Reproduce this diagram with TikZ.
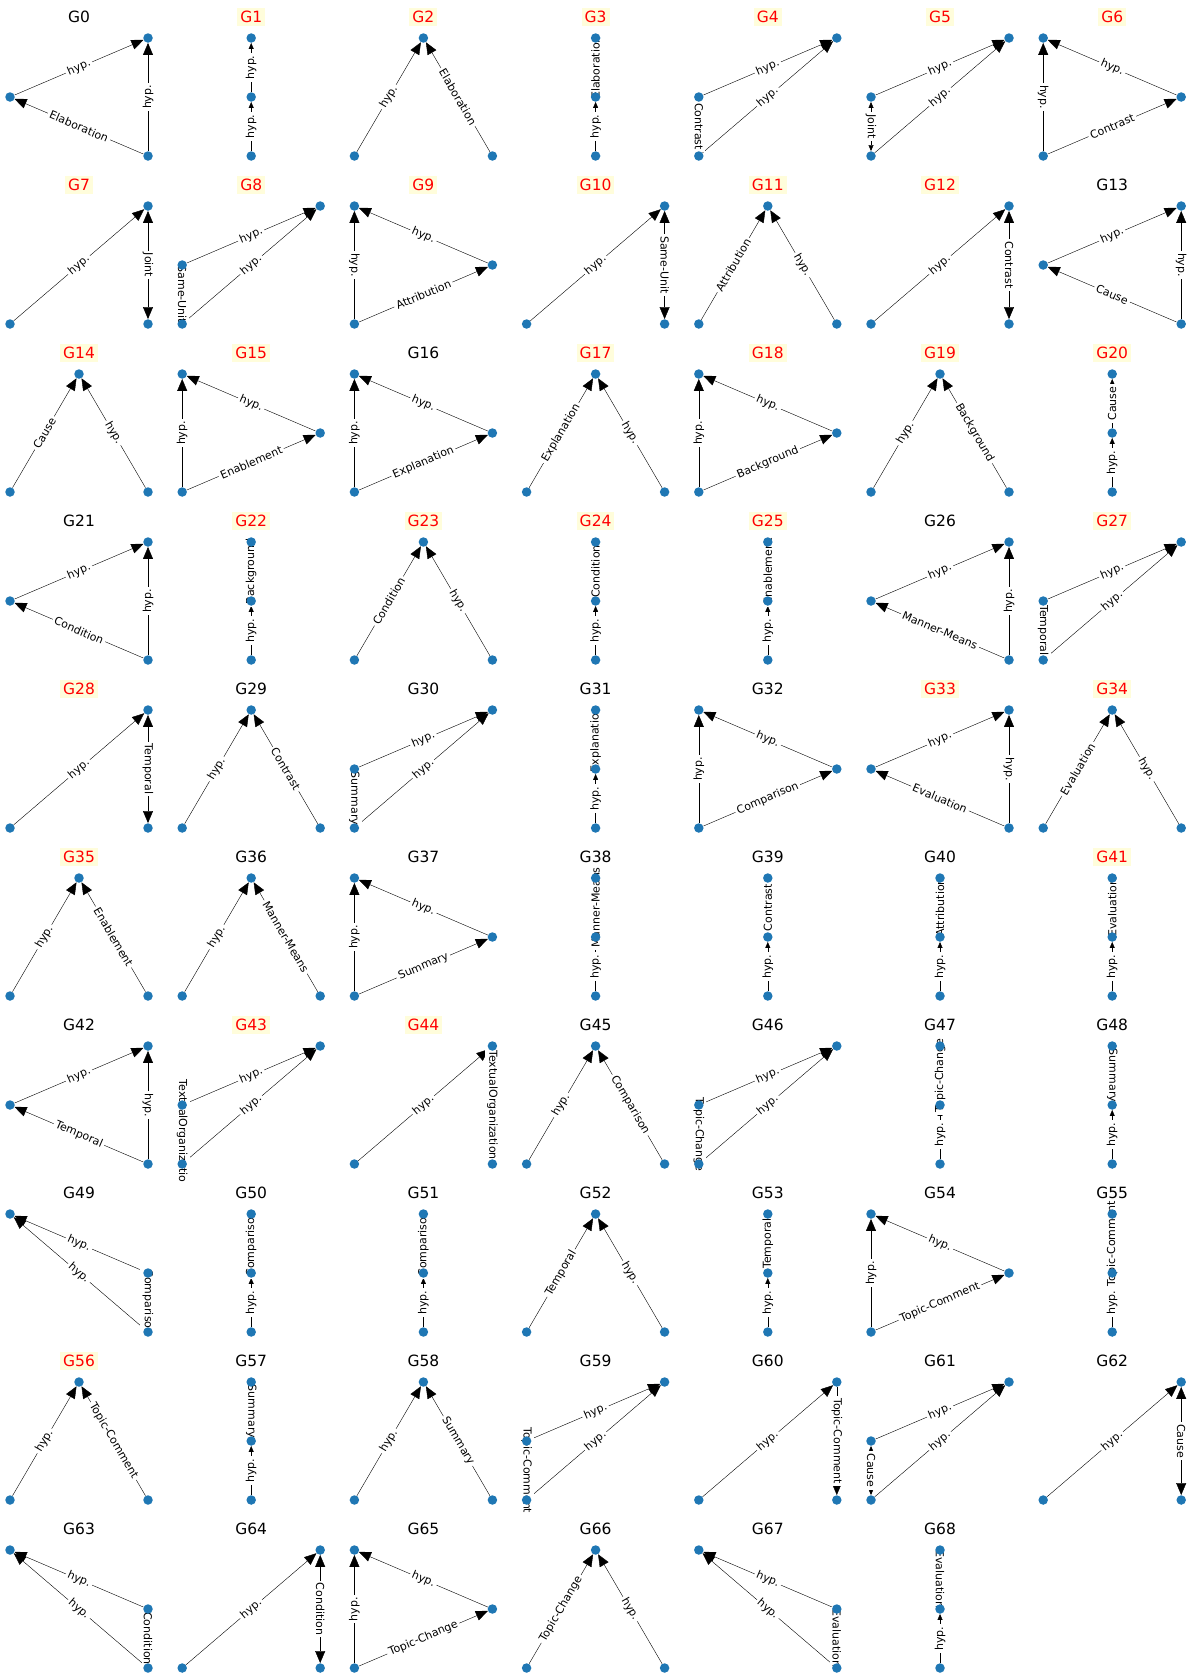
\documentclass[tikz,border=0pt]{standalone}
\usepackage{fontspec}
\setmainfont{DejaVu Sans}
\usetikzlibrary{arrows.meta}
\definecolor{dotblue}{HTML}{1F77B4}
\definecolor{hilite}{HTML}{FFFDDB}
\pgfdeclarelayer{labels}
\pgfdeclarelayer{dots}
\pgfsetlayers{main,labels,dots}

% one small graph per panel, G<index>
\newcommand{\gid}{}
\newcommand{\panel}[3]{%
  \renewcommand{\gid}{#1}%
  \pgfmathtruncatemacro\pc{mod(#1,7)}\pgfmathtruncatemacro\pr{floor(#1/7)}%
  \begin{scope}[shift={(79+172.2*\pc,38+168*\pr)}]
    \node[#2] (title#1) at (0,-21) {G#1};
    \coordinate (T) at (0,0); \coordinate (M) at (0,59); \coordinate (B) at (0,118);
    \coordinate (TL) at (-69,0); \coordinate (ML) at (-69,59); \coordinate (BL) at (-69,118);
    \coordinate (TR) at (69,0); \coordinate (MR) at (69,59); \coordinate (BR) at (69,118);
    #3
  \end{scope}}
\newcommand{\vx}[2]{\begin{pgfonlayer}{dots}\node[vert] (g\gid#1) at (#2) {};\end{pgfonlayer}}
\newcommand{\ed}[5]{% tips, from, to, label, label options
  \draw[#1] (g\gid#2) -- (g\gid#3);
  \begin{pgfonlayer}{labels}\begin{scope}
    \clip (-84,-17) rectangle (84,135);
    \path (g\gid#2) -- node[lab,#5] {#4} (g\gid#3);
  \end{scope}\end{pgfonlayer}}
% the layouts
\newcommand{\leftapex}[2]{\vx{a}{ML}\vx{b}{TR}\vx{c}{BR}
  \ed{big}{a}{b}{hyp.}{sloped}\ed{big}{c}{b}{hyp.}{rotate=#2}\ed{big}{c}{a}{#1}{sloped}}
\newcommand{\peak}[2]{\vx{a}{T}\vx{b}{BL}\vx{c}{BR}
  \ed{big}{b}{a}{#1}{sloped}\ed{big}{c}{a}{#2}{sloped}}
\newcommand{\chain}[2]{\vx{a}{T}\vx{b}{M}\vx{c}{B}
  \ed{sm}{c}{b}{hyp.}{rotate=90}\ed{sm}{b}{a}{#1}{rotate=#2}}
\newcommand{\leftpair}[2]{\vx{a}{ML}\vx{b}{TR}\vx{c}{BL}
  \ed{big}{a}{b}{hyp.}{sloped}\ed{big}{c}{b}{hyp.}{sloped}\ed{#2}{a}{c}{#1}{rotate=-90}}
\newcommand{\rightapex}[2]{\vx{a}{TL}\vx{b}{MR}\vx{c}{BL}
  \ed{big}{b}{a}{hyp.}{sloped}\ed{big}{c}{a}{hyp.}{rotate=#2}\ed{big}{c}{b}{#1}{sloped}}
\newcommand{\rightpair}[2]{\vx{a}{BL}\vx{b}{TR}\vx{c}{BR}
  \ed{big}{a}{b}{hyp.}{sloped}\ed{#2}{b}{c}{#1}{rotate=-90}}
\newcommand{\lowpair}[1]{\vx{a}{TL}\vx{b}{MR}\vx{c}{BR}
  \ed{big}{b}{a}{hyp.}{sloped}\ed{big}{c}{a}{hyp.}{sloped}\ed{}{b}{c}{#1}{rotate=-90}}

\begin{document}
\begin{tikzpicture}[x=1pt,y=-1pt,line width=1.25pt,
  vert/.style={circle,fill=dotblue,inner sep=0pt,minimum size=9.5pt},
  lab/.style={fill=white,inner sep=2.2pt,font=\fontsize{11}{12}\selectfont},
  ttl/.style={font=\fontsize{15.5}{17}\selectfont,inner sep=3pt},
  hot/.style={ttl,text=red,fill=hilite},
  big/.style={-{Triangle[length=12pt,width=10pt]}},
  sm/.style={-{Triangle[length=6pt,width=5pt]}},
  bigs/.style={{Triangle[length=12pt,width=10pt]}-{Triangle[length=12pt,width=10pt]}},
  sms/.style={{Triangle[length=6pt,width=5pt]}-{Triangle[length=6pt,width=5pt]}}]
\useasboundingbox (0,0) rectangle (1192,1676);

\panel{0}{ttl}{\leftapex{Elaboration}{90}}
\panel{1}{hot}{\chain{hyp.}{90}}
\panel{2}{hot}{\peak{hyp.}{Elaboration}}
\panel{3}{hot}{\chain{Elaboration}{90}}
\panel{4}{hot}{\leftpair{Contrast}{}}
\panel{5}{hot}{\leftpair{Joint}{sms}}
\panel{6}{hot}{\rightapex{Contrast}{-90}}
\panel{7}{hot}{\rightpair{Joint}{bigs}}
\panel{8}{hot}{\leftpair{Same-Unit}{}}
\panel{9}{hot}{\rightapex{Attribution}{-90}}
\panel{10}{hot}{\rightpair{Same-Unit}{bigs}}
\panel{11}{hot}{\peak{Attribution}{hyp.}}
\panel{12}{hot}{\rightpair{Contrast}{bigs}}
\panel{13}{ttl}{\leftapex{Cause}{-90}}
\panel{14}{hot}{\peak{Cause}{hyp.}}
\panel{15}{hot}{\rightapex{Enablement}{90}}
\panel{16}{ttl}{\rightapex{Explanation}{90}}
\panel{17}{hot}{\peak{Explanation}{hyp.}}
\panel{18}{hot}{\rightapex{Background}{90}}
\panel{19}{hot}{\peak{hyp.}{Background}}
\panel{20}{hot}{\chain{Cause}{90}}
\panel{21}{ttl}{\leftapex{Condition}{90}}
\panel{22}{hot}{\chain{Background}{90}}
\panel{23}{hot}{\peak{Condition}{hyp.}}
\panel{24}{hot}{\chain{Condition}{90}}
\panel{25}{hot}{\chain{Enablement}{90}}
\panel{26}{ttl}{\leftapex{Manner-Means}{90}}
\panel{27}{hot}{\leftpair{Temporal}{}}
\panel{28}{hot}{\rightpair{Temporal}{bigs}}
\panel{29}{ttl}{\peak{hyp.}{Contrast}}
\panel{30}{ttl}{\leftpair{Summary}{}}
\panel{31}{ttl}{\chain{Explanation}{90}}
\panel{32}{ttl}{\rightapex{Comparison}{90}}
\panel{33}{hot}{\leftapex{Evaluation}{-90}}
\panel{34}{hot}{\peak{Evaluation}{hyp.}}
\panel{35}{hot}{\peak{hyp.}{Enablement}}
\panel{36}{ttl}{\peak{hyp.}{Manner-Means}}
\panel{37}{ttl}{\rightapex{Summary}{90}}
\panel{38}{ttl}{\chain{Manner-Means}{90}}
\panel{39}{ttl}{\chain{Contrast}{90}}
\panel{40}{ttl}{\chain{Attribution}{90}}
\panel{41}{hot}{\chain{Evaluation}{90}}
\panel{42}{ttl}{\leftapex{Temporal}{-90}}
\panel{43}{hot}{\leftpair{TextualOrganization}{}}
\panel{44}{hot}{\rightpair{TextualOrganization}{}}
\panel{45}{ttl}{\peak{hyp.}{Comparison}}
\panel{46}{ttl}{\leftpair{Topic-Change}{}}
\panel{47}{ttl}{\chain{Topic-Change}{90}}
\panel{48}{ttl}{\chain{Summary}{-90}}
\panel{49}{ttl}{\lowpair{Comparison}}
\panel{50}{ttl}{\chain{Comparison}{90}}
\panel{51}{ttl}{\chain{Comparison}{90}}
\panel{52}{ttl}{\peak{Temporal}{hyp.}}
\panel{53}{ttl}{\chain{Temporal}{90}}
\panel{54}{ttl}{\rightapex{Topic-Comment}{90}}
\panel{55}{ttl}{\chain{Topic-Comment}{90}}
\panel{56}{hot}{\peak{hyp.}{Topic-Comment}}
\panel{57}{ttl}{\chain{Summary}{-90}}
\panel{58}{ttl}{\peak{hyp.}{Summary}}
\panel{59}{ttl}{\leftpair{Topic-Comment}{}}
\panel{60}{ttl}{\rightpair{Topic-Comment}{big}}
\panel{61}{ttl}{\leftpair{Cause}{sms}}
\panel{62}{ttl}{\rightpair{Cause}{bigs}}
\panel{63}{ttl}{\lowpair{Condition}}
\panel{64}{ttl}{\rightpair{Condition}{bigs}}
\panel{65}{ttl}{\rightapex{Topic-Change}{90}}
\panel{66}{ttl}{\peak{Topic-Change}{hyp.}}
\panel{67}{ttl}{\lowpair{Evaluation}}
\panel{68}{ttl}{\chain{Evaluation}{-90}}
\end{tikzpicture}
\end{document}
